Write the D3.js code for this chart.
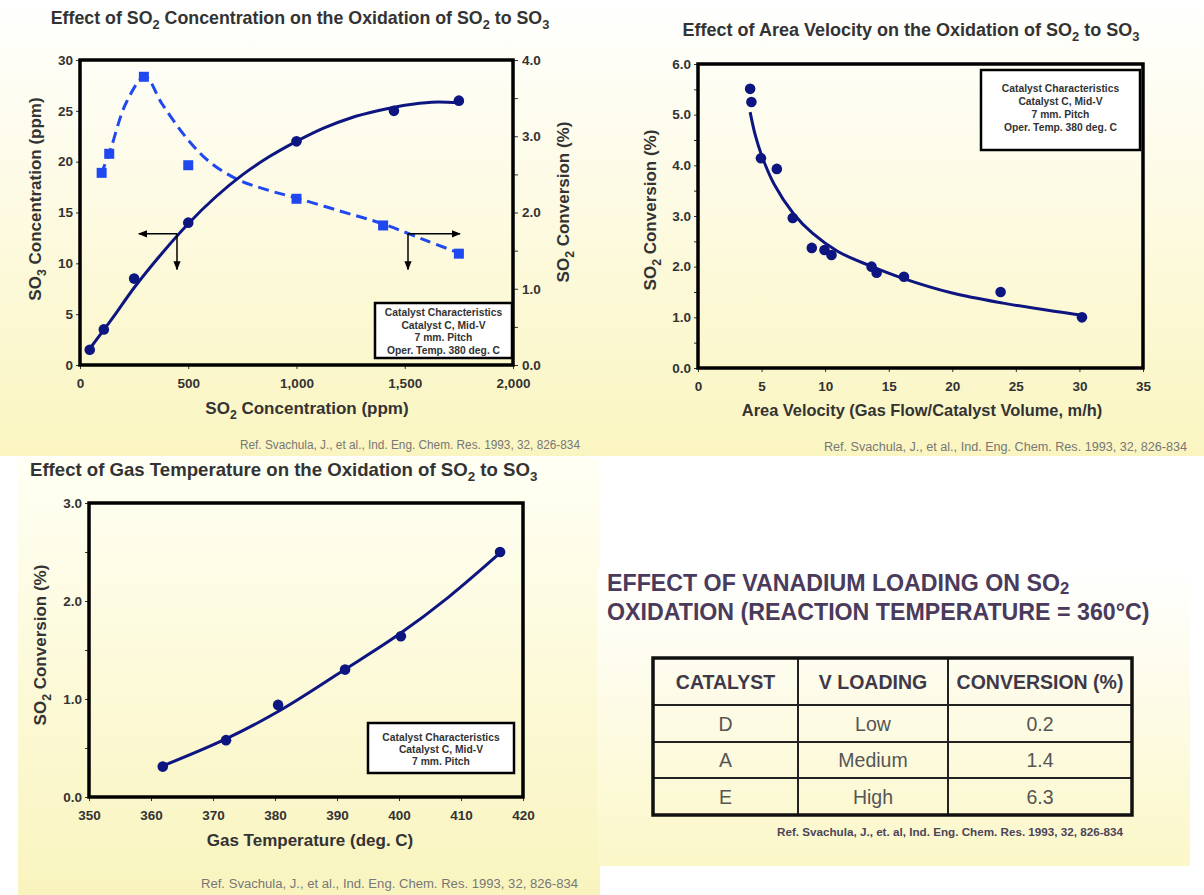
<!DOCTYPE html>
<html>
<head>
<meta charset="utf-8">
<script src="https://cdn.jsdelivr.net/npm/d3@7"></script>
<style>
    body { margin: 0; background: #fff; }
    svg { display: block; font-family: "Liberation Sans", Arial, sans-serif; }
</style>
</head>
<body>
<div id="chart"></div>
<script>
// ---- Panel 1: SO2 concentration ----
const concX = [45, 110, 250, 500, 1000, 1450, 1750];
const concSO3 = [1.5, 3.5, 8.5, 14, 22, 25, 26];
const convX = [100, 135, 295, 500, 1000, 1400, 1750];
const convPct = [2.52, 2.77, 3.78, 2.62, 2.18, 1.83, 1.46];
const so3FitX = [45, 150, 250, 375, 500, 625, 750, 875, 1000, 1125, 1250, 1375, 1500, 1625, 1750];
const so3FitY = [1.6, 4.6, 7.6, 10.9, 13.9, 16.5, 18.7, 20.5, 22, 23.3, 24.3, 25.0, 25.55, 25.85, 25.8];
const convFitX = [97, 140, 215, 300, 380, 500, 600, 730, 860, 1000, 1200, 1400, 1600, 1750];
const convFitY = [2.5, 2.82, 3.45, 3.78, 3.42, 2.95, 2.66, 2.43, 2.3, 2.19, 2.02, 1.85, 1.63, 1.47];
const concXTicks = [0, 500, 1000, 1500, 2000];
const so3Ticks = [0, 5, 10, 15, 20, 25, 30];
const convTicks = [0, 0.5, 1, 1.5, 2, 2.5, 3, 3.5, 4];

// ---- Panel 2: area velocity ----
const avX = [4.1, 4.2, 4.95, 6.2, 7.45, 8.95, 9.95, 10.5, 13.65, 14.05, 16.2, 23.8, 30.2];
const avY = [5.51, 5.25, 4.14, 3.93, 2.96, 2.37, 2.33, 2.23, 2.0, 1.88, 1.80, 1.50, 1.0];
const avFitX = [4.1, 4.5, 5, 6, 7.5, 9, 11, 13.5, 16, 20, 24, 28, 30.3];
const avFitY = [5.05, 4.6, 4.2, 3.62, 3.05, 2.66, 2.3, 2.02, 1.78, 1.48, 1.28, 1.12, 1.04];
const avXTicks = [0, 5, 10, 15, 20, 25, 30, 35];
const avYTicks = [0, 0.5, 1, 1.5, 2, 2.5, 3, 3.5, 4, 4.5, 5, 5.5, 6];

// ---- Panel 3: gas temperature ----
const tempX = [361.9, 372.1, 380.5, 391.3, 400.3, 416.3];
const tempY = [0.31, 0.58, 0.94, 1.30, 1.64, 2.50];
const tempFitX = [362, 372, 381, 391, 400, 408, 416.3];
const tempFitY = [0.32, 0.59, 0.89, 1.29, 1.66, 2.04, 2.49];
const tempXTicks = [350, 360, 370, 380, 390, 400, 410, 420];
const tempYTicks = [0, 0.5, 1, 1.5, 2, 2.5, 3];

// ---- Panel 4: vanadium loading table ----
const tableHeaders = ["CATALYST", "V LOADING", "CONVERSION (%)"];
const catalysts = ["D", "A", "E"];
const loadings = ["Low", "Medium", "High"];
const conversions = ["0.2", "1.4", "6.3"];

const legendFull = ["Catalyst Characteristics", "Catalyst C, Mid-V", "7 mm. Pitch", "Oper. Temp. 380 deg. C"];
const legendShort = ["Catalyst Characteristics", "Catalyst C, Mid-V", "7 mm. Pitch"];
const refText = "Ref. Svachula, J., et al., Ind. Eng. Chem. Res. 1993, 32, 826-834";
const refText2 = "Ref. Svachula, J., et. al, Ind. Eng. Chem. Res. 1993, 32, 826-834";

const W = 1204, H = 895;
const ink = "#333";
const navy = "#0d1580";
const blue = "#1f48f0";

const svg = d3.select("#chart").append("svg").attr("width", W).attr("height", H);

// background gradients
const defs = svg.append("defs");
function grad(id, top, bottom) {
    const g = defs.append("linearGradient").attr("id", id).attr("x1", 0).attr("y1", 0).attr("x2", 0).attr("y2", 1);
    g.append("stop").attr("offset", "0%").attr("stop-color", top);
    g.append("stop").attr("offset", "100%").attr("stop-color", bottom);
}
grad("bgTop", "#ffffff", "#faf5c0");
grad("bgLeft", "#fffff4", "#f9f4be");
grad("bgRight", "#ffffff", "#fbf7c9");

defs.append("marker").attr("id", "arrow").attr("viewBox", "0 0 10 10")
    .attr("refX", 9).attr("refY", 5).attr("markerWidth", 9).attr("markerHeight", 9)
    .attr("markerUnits", "userSpaceOnUse").attr("orient", "auto")
    .append("path").attr("d", "M0,1 L10,5 L0,9 Z").attr("fill", "#000");

svg.append("rect").attr("x", 0).attr("y", 0).attr("width", W).attr("height", 456).attr("fill", "url(#bgTop)");
svg.append("rect").attr("x", 18).attr("y", 458).attr("width", 582).attr("height", 437).attr("fill", "url(#bgLeft)");
svg.append("rect").attr("x", 597).attr("y", 568).attr("width", 593).attr("height", 298).attr("fill", "url(#bgRight)");

// text with {subscripts}
function rich(sel, str, size, shift = 0.28) {
    str.split(/(\{[^}]*\})/).forEach(part => {
        if (!part) return;
        if (part[0] === "{") {
            sel.append("tspan").attr("baseline-shift", -size * shift).attr("font-size", size * 0.72).text(part.slice(1, -1));
        } else {
            sel.append("tspan").text(part);
        }
    });
    return sel;
}

function label(x, y, str, size, opts = {}) {
    const t = svg.append("text")
        .attr("x", x).attr("y", y)
        .attr("text-anchor", opts.anchor || "middle")
        .attr("font-size", size)
        .attr("font-weight", opts.weight || "bold")
        .attr("fill", opts.fill || ink);
    if (opts.rotate) t.attr("transform", `rotate(-90,${x},${y})`);
    return rich(t, str, size, opts.shift);
}

function legendBox(x, y, w, h, lines, first, step) {
    svg.append("rect").attr("x", x).attr("y", y).attr("width", w).attr("height", h)
        .attr("fill", "#fff").attr("stroke", "#000").attr("stroke-width", 2.5);
    lines.forEach((l, i) => {
        svg.append("text").attr("x", x + w / 2).attr("y", y + first + step * i)
            .attr("text-anchor", "middle").attr("font-size", 10.3).attr("font-weight", "bold")
            .attr("fill", ink).text(l);
    });
}

function refLine(x, y, str, len) {
    svg.append("text").attr("x", x).attr("y", y).attr("font-size", 12)
        .attr("fill", "#777").attr("textLength", len).attr("lengthAdjust", "spacingAndGlyphs").text(str);
}

function styleAxis(g) {
    g.select(".domain").remove();
    g.selectAll(".tick line").attr("stroke", ink);
    g.selectAll(".tick text").attr("font-size", 13.5).attr("font-weight", "bold").attr("fill", ink)
        .attr("font-family", "Liberation Sans, Arial, sans-serif");
}

function frame(x, y) {
    svg.append("rect")
        .attr("x", x.range()[0]).attr("y", y.range()[1])
        .attr("width", x.range()[1] - x.range()[0]).attr("height", y.range()[0] - y.range()[1])
        .attr("fill", "none").attr("stroke", "#000").attr("stroke-width", 3.5);
}

const fmt1 = d => (d % 1 === 0 ? d3.format(".1f")(d) : "");

// ================= Panel 1 =================
{
    const x = d3.scaleLinear().domain([0, 2000]).range([80, 513]);
    const yL = d3.scaleLinear().domain([0, 30]).range([365, 60]);
    const yR = d3.scaleLinear().domain([0, 4]).range([365, 60]);

    svg.append("g").attr("transform", "translate(0,365)")
        .call(d3.axisBottom(x).tickValues(concXTicks).tickFormat(d3.format(",")).tickSize(4).tickPadding(9))
        .call(styleAxis);
    svg.append("g").attr("transform", "translate(80,0)")
        .call(d3.axisLeft(yL).tickValues(so3Ticks).tickSize(4).tickPadding(3))
        .call(styleAxis);
    svg.append("g").attr("transform", "translate(513,0)")
        .call(d3.axisRight(yR).tickValues(convTicks).tickFormat(fmt1).tickSize(5).tickPadding(4))
        .call(styleAxis);

    // dashed conversion fit
    svg.append("path")
        .datum(convFitX.map((d, i) => [d, convFitY[i]]))
        .attr("fill", "none").attr("stroke", blue).attr("stroke-width", 3)
        .attr("stroke-dasharray", "11,6")
        .attr("d", d3.line().x(d => x(d[0])).y(d => yR(d[1])).curve(d3.curveCatmullRom.alpha(0.5)));

    // solid SO3 fit
    svg.append("path")
        .datum(so3FitX.map((d, i) => [d, so3FitY[i]]))
        .attr("fill", "none").attr("stroke", navy).attr("stroke-width", 3)
        .attr("d", d3.line().x(d => x(d[0])).y(d => yL(d[1])).curve(d3.curveCatmullRom.alpha(0.5)));

    svg.append("g").selectAll("rect")
        .data(convX.map((d, i) => [d, convPct[i]]))
        .join("rect")
        .attr("x", d => x(d[0]) - 5).attr("y", d => yR(d[1]) - 5)
        .attr("width", 10).attr("height", 10).attr("fill", blue);

    svg.append("g").selectAll("circle")
        .data(concX.map((d, i) => [d, concSO3[i]]))
        .join("circle")
        .attr("cx", d => x(d[0])).attr("cy", d => yL(d[1])).attr("r", 5.3).attr("fill", navy);

    // axis pointer arrows
    const arrows = [{ from: 448, to: 272, y: 12.9, down: 9.4 }, { from: 1515, to: 1755, y: 12.9, down: 9.4 }];
    arrows.forEach(a => {
        svg.append("line").attr("x1", x(a.from)).attr("y1", yL(a.y)).attr("x2", x(a.to)).attr("y2", yL(a.y))
            .attr("stroke", "#000").attr("stroke-width", 1.5).attr("marker-end", "url(#arrow)");
        svg.append("line").attr("x1", x(a.from)).attr("y1", yL(a.y)).attr("x2", x(a.from)).attr("y2", yL(a.down))
            .attr("stroke", "#000").attr("stroke-width", 1.5).attr("marker-end", "url(#arrow)");
    });

    frame(x, yL);
    legendBox(375, 303, 137, 55, legendFull, 13, 12.6);

    label(300, 24, "Effect of SO{2} Concentration on the Oxidation of SO{2} to SO{3}", 17.8);
    label(307, 414, "SO{2} Concentration (ppm)", 17);
    label(41, 199, "SO{3} Concentration (ppm)", 17, { rotate: true });
    label(569, 202, "SO{2} Conversion (%)", 17, { rotate: true });
    refLine(240, 449, refText, 340);
}

// ================= Panel 2 =================
{
    const x = d3.scaleLinear().domain([0, 35]).range([698, 1143]);
    const y = d3.scaleLinear().domain([0, 6]).range([368, 64]);

    svg.append("g").attr("transform", "translate(0,368)")
        .call(d3.axisBottom(x).tickValues(avXTicks).tickSize(4).tickPadding(9))
        .call(styleAxis);
    svg.append("g").attr("transform", "translate(698,0)")
        .call(d3.axisLeft(y).tickValues(avYTicks).tickFormat(fmt1).tickSize(4).tickPadding(3))
        .call(styleAxis);

    svg.append("path")
        .datum(avFitX.map((d, i) => [d, avFitY[i]]))
        .attr("fill", "none").attr("stroke", navy).attr("stroke-width", 3)
        .attr("d", d3.line().x(d => x(d[0])).y(d => y(d[1])).curve(d3.curveCatmullRom.alpha(0.5)));

    svg.append("g").selectAll("circle")
        .data(avX.map((d, i) => [d, avY[i]]))
        .join("circle")
        .attr("cx", d => x(d[0])).attr("cy", d => y(d[1])).attr("r", 5.3).attr("fill", navy);

    frame(x, y);
    legendBox(981, 70, 159, 80, legendFull, 22, 13);

    label(911, 36, "Effect of Area Velocity on the Oxidation of SO{2} to SO{3}", 18);
    label(922, 416, "Area Velocity (Gas Flow/Catalyst Volume, m/h)", 16.4);
    label(656, 210, "SO{2} Conversion (%)", 17, { rotate: true });
    refLine(824, 451, refText, 363);
}

// ================= Panel 3 =================
{
    const x = d3.scaleLinear().domain([350, 420]).range([89, 523]);
    const y = d3.scaleLinear().domain([0, 3]).range([797, 503]);

    svg.append("g").attr("transform", "translate(0,797)")
        .call(d3.axisBottom(x).tickValues(tempXTicks).tickSize(4).tickPadding(9))
        .call(styleAxis);
    svg.append("g").attr("transform", "translate(89,0)")
        .call(d3.axisLeft(y).tickValues(tempYTicks).tickFormat(fmt1).tickSize(4).tickPadding(3))
        .call(styleAxis);

    svg.append("path")
        .datum(tempFitX.map((d, i) => [d, tempFitY[i]]))
        .attr("fill", "none").attr("stroke", navy).attr("stroke-width", 3)
        .attr("d", d3.line().x(d => x(d[0])).y(d => y(d[1])).curve(d3.curveCatmullRom.alpha(0.5)));

    svg.append("g").selectAll("circle")
        .data(tempX.map((d, i) => [d, tempY[i]]))
        .join("circle")
        .attr("cx", d => x(d[0])).attr("cy", d => y(d[1])).attr("r", 5.3).attr("fill", navy);

    frame(x, y);
    legendBox(368, 723, 146, 50, legendShort, 18, 12);

    label(30, 476, "Effect of Gas Temperature on the Oxidation of SO{2} to SO{3}", 18.6, { anchor: "start" });
    label(310, 846, "Gas Temperature (deg. C)", 17);
    label(46, 645, "SO{2}  Conversion (%)", 17, { rotate: true });
    refLine(201, 888, refText, 377);
}

// ================= Panel 4: table =================
{
    const purple = "#4a3a5c";
    label(607, 591, "EFFECT OF VANADIUM LOADING ON SO{2}", 23.2, { anchor: "start", fill: purple, shift: 0.14 });
    label(607, 620, "OXIDATION (REACTION TEMPERATURE = 360°C)", 23.2, { anchor: "start", fill: purple });

    const colEdges = [653, 798, 948, 1132];
    const rowEdges = [658, 705, 742, 778, 815];
    const rows = catalysts.map((c, i) => [c, loadings[i], conversions[i]]);

    const tg = svg.append("g");
    rowEdges.slice(1, -1).forEach(yy => {
        tg.append("line").attr("x1", colEdges[0]).attr("x2", colEdges[3]).attr("y1", yy).attr("y2", yy)
            .attr("stroke", "#222").attr("stroke-width", 2);
    });
    colEdges.slice(1, -1).forEach(xx => {
        tg.append("line").attr("x1", xx).attr("x2", xx).attr("y1", rowEdges[0]).attr("y2", rowEdges[4])
            .attr("stroke", "#222").attr("stroke-width", 2);
    });
    tg.append("rect").attr("x", colEdges[0]).attr("y", rowEdges[0])
        .attr("width", colEdges[3] - colEdges[0]).attr("height", rowEdges[4] - rowEdges[0])
        .attr("fill", "none").attr("stroke", "#111").attr("stroke-width", 3.5);

    const cx = i => (colEdges[i] + colEdges[i + 1]) / 2;
    const cy = j => (rowEdges[j] + rowEdges[j + 1]) / 2;

    tableHeaders.forEach((h, i) => {
        tg.append("text").attr("x", cx(i)).attr("y", cy(0) + 7).attr("text-anchor", "middle")
            .attr("font-size", 19.5).attr("font-weight", "bold").attr("fill", "#3e3848").text(h);
    });
    rows.forEach((r, j) => {
        r.forEach((v, i) => {
            tg.append("text").attr("x", cx(i)).attr("y", cy(j + 1) + 7).attr("text-anchor", "middle")
                .attr("font-size", 19.5).attr("fill", "#555").text(v);
        });
    });

    svg.append("text").attr("x", 777).attr("y", 836).attr("font-size", 10.5).attr("font-weight", "bold")
        .attr("fill", "#4d4458").attr("textLength", 346).attr("lengthAdjust", "spacingAndGlyphs").text(refText2);
}
</script>
</body>
</html>
